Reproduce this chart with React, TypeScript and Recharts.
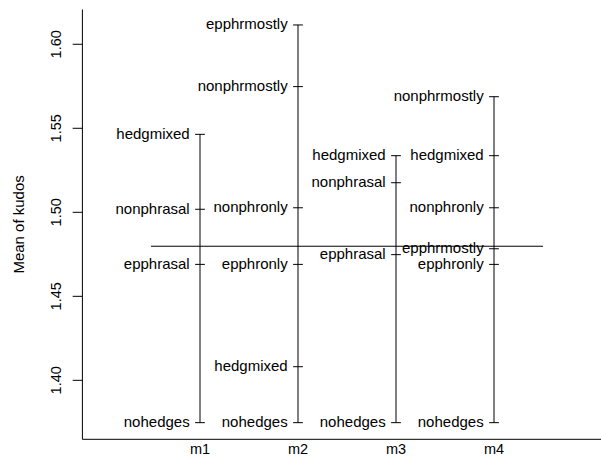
import React from 'react';
import { ComposedChart, XAxis, YAxis, Scatter, ReferenceLine } from 'recharts';

const factors = ['m1', 'm2', 'm3', 'm4'];

const m1Levels = ['hedgmixed', 'nonphrasal', 'epphrasal', 'nohedges'];
const m1Means = [1.5464, 1.5018, 1.469, 1.3748];

const m2Levels = ['epphrmostly', 'nonphrmostly', 'nonphronly', 'epphronly', 'hedgmixed', 'nohedges'];
const m2Means = [1.6115, 1.5748, 1.5027, 1.469, 1.4081, 1.3748];

const m3Levels = ['hedgmixed', 'nonphrasal', 'epphrasal', 'nohedges'];
const m3Means = [1.5337, 1.5176, 1.4748, 1.3748];

const m4Levels = ['nonphrmostly', 'hedgmixed', 'nonphronly', 'epphrmostly', 'epphronly', 'nohedges'];
const m4Means = [1.5688, 1.5337, 1.5027, 1.4783, 1.469, 1.3748];

const grandMean = 1.4798;

const yTicks = [1.4, 1.45, 1.5, 1.55, 1.6];
const yTickLabels = ['1.40', '1.45', '1.50', '1.55', '1.60'];

const xDomain = [-0.2, 5.2];
const yDomain = [1.3649, 1.6207];

const FONT = '"Liberation Sans", Arial, Helvetica, sans-serif';

const groups = [
  { f: 1, levels: m1Levels, means: m1Means },
  { f: 2, levels: m2Levels, means: m2Means },
  { f: 3, levels: m3Levels, means: m3Means },
  { f: 4, levels: m4Levels, means: m4Means },
];

const points = groups.flatMap((g) =>
  g.levels.map((lv, i) => ({ x: g.f, y: g.means[i], level: lv }))
);

const LevelMark = (props: any) => {
  const { cx, cy, payload } = props;
  if (cx == null || cy == null) return null;
  return (
    <g>
      <line x1={cx - 4.9} x2={cx + 4.9} y1={cy} y2={cy} stroke="#000" strokeWidth={1} />
      <text
        x={cx - 10.3}
        y={cy}
        dy="0.3em"
        textAnchor="end"
        fontSize={15}
        fontFamily={FONT}
        fill="#000"
      >
        {payload.level}
      </text>
    </g>
  );
};

const YTick = (props: any) => {
  const { y, payload } = props;
  const idx = yTicks.indexOf(payload.value);
  const label = idx >= 0 ? yTickLabels[idx] : String(payload.value);
  return (
    <text
      transform={`translate(61, ${y}) rotate(-90)`}
      textAnchor="middle"
      fontSize={14.5}
      fontFamily={FONT}
      fill="#000"
    >
      {label}
    </text>
  );
};

export default function App() {
  return (
    <div
      style={{
        position: 'absolute',
        left: 0,
        top: 0,
        width: 601,
        height: 457,
        overflow: 'hidden',
        background: '#fff',
      }}
    >
      <ComposedChart
        width={620}
        height={457}
        margin={{ top: 9.5, right: 8.4, bottom: 0, left: 0 }}
        data={points}
      >
        <XAxis
          xAxisId="b"
          dataKey="x"
          type="number"
          domain={xDomain}
          allowDataOverflow
          ticks={[1, 2, 3, 4]}
          tickFormatter={(v: number) => factors[v - 1]}
          tickLine={false}
          axisLine={{ stroke: '#000', strokeWidth: 1 }}
          tickSize={0}
          tickMargin={4.7}
          height={17.7}
          interval={0}
          tick={{ fill: '#000', fontSize: 14.5, fontFamily: FONT }}
        />
        <XAxis
          xAxisId="t"
          orientation="top"
          dataKey="x"
          type="number"
          domain={xDomain}
          allowDataOverflow
          ticks={[]}
          tick={false}
          tickLine={false}
          axisLine={{ stroke: '#000', strokeWidth: 1 }}
          height={0}
        />
        <YAxis
          dataKey="y"
          type="number"
          domain={yDomain}
          allowDataOverflow
          ticks={yTicks}
          interval={0}
          width={82.4}
          axisLine={{ stroke: '#000', strokeWidth: 1 }}
          tickSize={9.7}
          tickLine={{ stroke: '#000', strokeWidth: 1 }}
          tick={<YTick />}
        />
        {groups.map((g) => (
          <ReferenceLine
            key={g.f}
            xAxisId="b"
            segment={[
              { x: g.f, y: Math.min(...g.means) },
              { x: g.f, y: Math.max(...g.means) },
            ]}
            stroke="#000"
            strokeWidth={1}
            ifOverflow="visible"
          />
        ))}
        <ReferenceLine
          xAxisId="b"
          segment={[
            { x: 0.5, y: grandMean },
            { x: 4.5, y: grandMean },
          ]}
          stroke="#000"
          strokeWidth={1}
          ifOverflow="visible"
        />
        <Scatter
          xAxisId="b"
          dataKey="y"
          data={points}
          shape={<LevelMark />}
          isAnimationActive={false}
        />
        <text
          transform={`translate(24, 224.4) rotate(-90)`}
          textAnchor="middle"
          fontSize={15}
          fontFamily={FONT}
          fill="#000"
        >
          Mean of kudos
        </text>
      </ComposedChart>
    </div>
  );
}
